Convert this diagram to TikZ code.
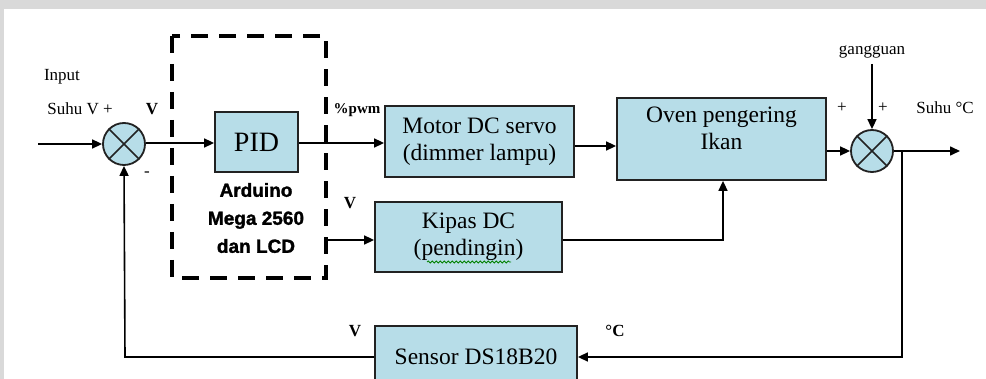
\documentclass[tikz,border=0pt]{standalone}
\usepackage{fontspec}
\setmainfont{Liberation Serif}
\newfontfamily\ardfont[BoldFeatures={FakeBold=1.5}]{Liberation Sans}
\usetikzlibrary{arrows.meta,decorations.pathmorphing}
\definecolor{boxblue}{HTML}{B7DDE8}
\definecolor{edge}{HTML}{222222}
\definecolor{band}{HTML}{D9D9D9}
\begin{document}
\begin{tikzpicture}[x=1pt,y=-1pt,
  blk/.style={draw=edge,line width=1.8pt,fill=boxblue,rectangle,inner sep=0pt,align=center,
     font=\fontsize{23.5}{27}\selectfont},
  sumj/.style={draw=edge,line width=1.8pt,fill=boxblue,circle,minimum size=42pt,inner sep=0pt},
  conn/.style={line width=1.6pt,draw=black},
  arr/.style={conn,-{Triangle[length=10pt,width=9pt]}},
  lab/.style={inner sep=0pt,font=\fontsize{17}{19}\selectfont},
  blab/.style={inner sep=0pt,font=\fontsize{17}{19}\selectfont\bfseries}]
\useasboundingbox (0,0) rectangle (986,379);
\clip (0,0) rectangle (986,379);
\fill[band] (0,0) rectangle (986,9);
\fill[band] (0,0) rectangle (4,379);

% dashed controller box
\draw[line width=4pt,dash pattern=on 17pt off 11pt] (172,36) rectangle (326,278);

% blocks
\node[sumj] (s1) at (124,144) {};
\node[blk,minimum width=83pt,minimum height=60pt,font=\fontsize{28}{30}\selectfont] (pid) at (256.5,142) {PID};
\node[blk,minimum width=189pt,minimum height=71pt] (motor) at (479.5,141.5) {Motor DC servo\\(dimmer lampu)};
\node[blk,minimum width=209pt,minimum height=82pt] (oven) at (721.5,139) {Oven pengering\\Ikan\vphantom{g}\\[-6pt]};
\node[sumj] (s2) at (872,151) {};
\node[blk,minimum width=187pt,minimum height=70pt] (kipas) at (468.5,237) {Kipas DC\\(pendingin)};
\node[blk,minimum width=202pt,minimum height=62pt] (sensor) at (476,357) {Sensor DS18B20};

% crosses in summing junctions
\foreach \s in {s1,s2}{
  \draw[edge,line width=1.5pt] (\s.45) -- (\s.225) (\s.135) -- (\s.315);
}

% spell-check squiggle
\draw[green!50!black,line width=0.8pt,decorate,decoration={snake,amplitude=1pt,segment length=4pt}]
  (427,262) -- (511,262);

% controller text
\node[font=\ardfont\fontsize{19}{28}\selectfont\bfseries,align=center,inner sep=0pt] (ard) at (256,218)
  {Arduino\\Mega 2560\\dan LCD};

% coordinates
\coordinate (in) at (38,144);
\coordinate (k0) at (326,240);
\coordinate (kc) at (723,240);
\coordinate (br) at (902,151);
\coordinate (fb) at (902,357);
\coordinate (fl) at (125,357);
\coordinate (out) at (960,151);
\node[lab] (gang) at (872,52) {gangguan};
\coordinate (gtop) at (872,64);

% connectors
\draw[arr] (in) -- (s1.west);
\draw[arr] (s1.east |- 0,143) -- (pid.west |- 0,143);
\draw[arr] (pid.east |- 0,143) -- (motor.west |- 0,143);
\draw[arr] (motor.east |- 0,146) -- (oven.west |- 0,146);
\draw[arr] (oven.east |- s2.west) -- (s2.west);
\draw[arr] (gtop) -- (s2.north);
\draw[arr] (s2.east) -- (out);
\draw[arr] (br) -- (fb) -- (sensor.east);
\draw[arr] (sensor.west) -- (fl) -- (s1.south);
\draw[arr] (k0) -- (kipas.west |- k0);
\draw[arr] (kipas.east |- k0) -- (kc) -- (kc |- oven.south);

% labels
\node[lab] (linput) at (62,77) {Input};
\node[lab] (lsuhu) at (80,109) {Suhu V +};
\node[blab] (lv1) at (152,109) {V};
\node[lab] (lminus) at (147,174) {-};
\node[blab,font=\fontsize{15}{17}\selectfont\bfseries] (lpwm) at (357,110) {\%pwm};
\node[blab] (lv2) at (350,203) {V};
\node[lab] (lp1) at (842,108) {+};
\node[lab] (lp2) at (883,108) {+};
\node[lab] (lout) at (945,108) {Suhu °C};
\node[blab] (lv3) at (355,331) {V};
\node[blab] (lc) at (615,331) {°C};
\end{tikzpicture}
\end{document}
